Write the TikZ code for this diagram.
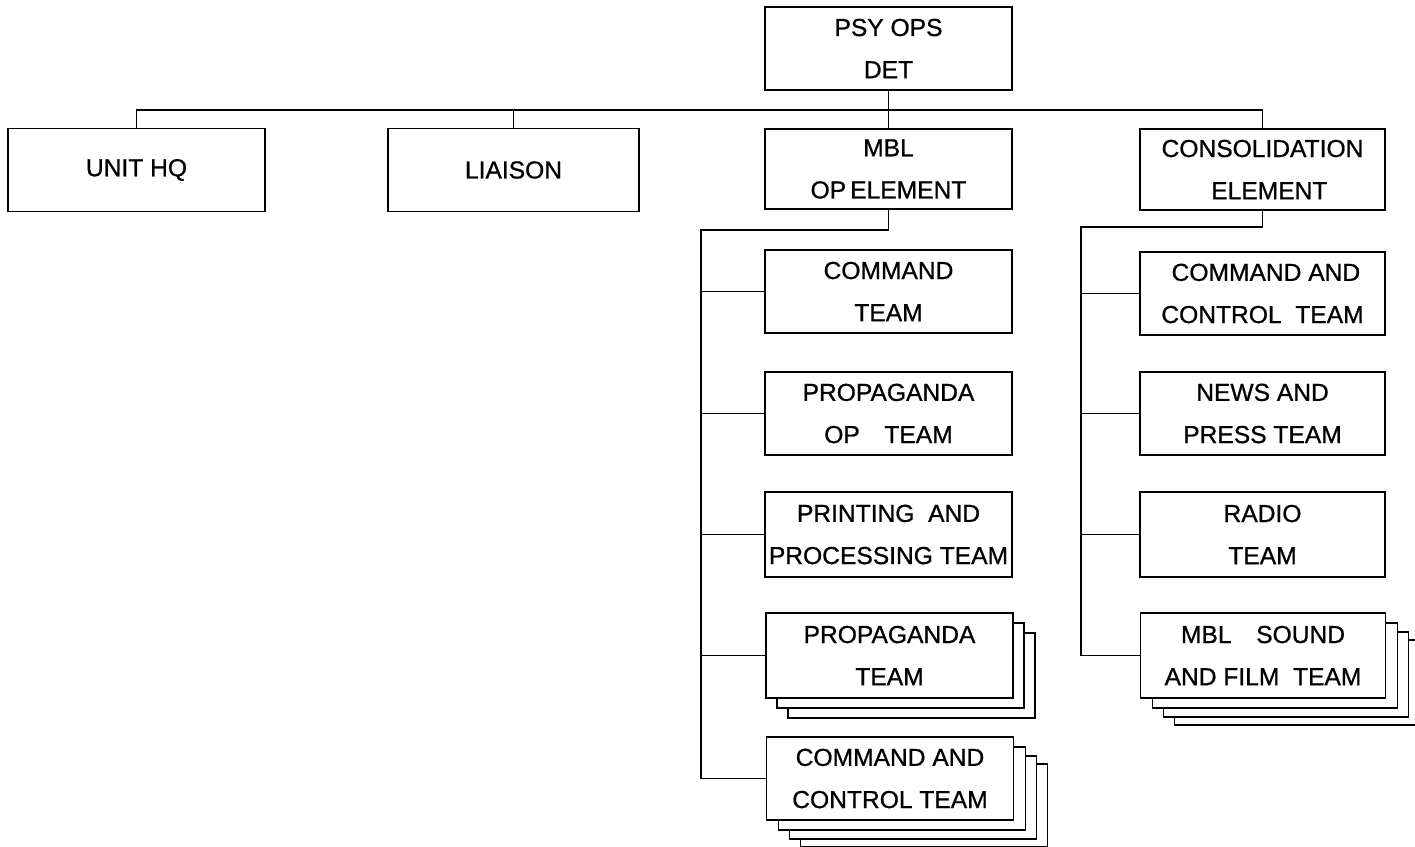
\documentclass[tikz,border=0pt]{standalone}
\usepackage{fontspec}
\setmainfont{Liberation Sans}
\newfontfamily\lettering[FakeBold=0.8]{Liberation Sans}
\usetikzlibrary{shadows,positioning}

\begin{document}
\begin{tikzpicture}[x=0.02cm, y=-0.02cm, line width=1pt,
    unit/.style={draw, fill=white, align=center, inner xsep=1pt, inner ysep=0pt,
        minimum width=4.94cm, minimum height=1.66cm,
        font=\lettering\fontsize{14}{24}\selectfont},
    stacktwo/.style={
        general shadow={fill=white, draw, shadow xshift=0.44cm, shadow yshift=-0.4cm},
        general shadow={fill=white, draw, shadow xshift=0.22cm, shadow yshift=-0.2cm}},
    stackthree/.style={
        general shadow={fill=white, draw, shadow xshift=0.68cm, shadow yshift=-0.54cm},
        general shadow={fill=white, draw, shadow xshift=0.46cm, shadow yshift=-0.38cm},
        general shadow={fill=white, draw, shadow xshift=0.24cm, shadow yshift=-0.2cm}}]
    \useasboundingbox (0,0) rectangle (1415,847);

    % top level
    \node[unit] (det) at (888.5,48.5) {PSY OPS\\DET};
    \node[unit, minimum width=5.14cm] (hq) at (136.5,170) {UNIT HQ};
    \node[unit, minimum width=5.02cm] (liaison) at (513.5,170) {LIAISON};
    \node[unit, minimum height=1.6cm] (mbl) at (888.5,169) {MBL\\OP\,ELEMENT};
    \node[unit, minimum width=4.9cm, minimum height=1.62cm] (cons) at (1262.5,169.5) {CONSOLIDATION\\\ \ ELEMENT};

    % mobile op element teams
    \node[unit] (cmdteam) at (888.5,291.5) {COMMAND\\TEAM};
    \node[unit] (propop) at (888.5,413.5) {PROPAGANDA\\OP\quad TEAM};
    \node[unit, minimum height=1.7cm] (print) at (888.5,534.5) {PRINTING\ \ AND\\PROCESSING TEAM};
    \node[unit, stacktwo, minimum height=1.7cm] (propteam) at (889.5,655.5) {PROPAGANDA\\TEAM};
    \node[unit, stackthree] (mblcc) at (890,778.5) {COMMAND AND\\CONTROL TEAM};

    % consolidation element teams
    \node[unit, minimum width=4.9cm] (conscc) at (1262.5,293.5) {\ COMMAND AND\\CONTROL\ \ TEAM};
    \node[unit, minimum width=4.9cm] (news) at (1262.5,413.5) {NEWS AND\\PRESS TEAM};
    \node[unit, minimum width=4.9cm, minimum height=1.7cm] (radio) at (1262.5,534.5) {RADIO\\TEAM};
    \node[unit, stackthree, minimum width=4.9cm, minimum height=1.7cm] (sound) at (1263,655.5) {MBL\quad SOUND\\AND FILM\ \ TEAM};

    % connectors
    \coordinate (bus) at (0,110);
    \coordinate (ltrunk) at (701,230);
    \coordinate (rtrunk) at (1081,227);
    \draw (det.south) -- (mbl.north);
    \draw (hq.north) |- (bus -| cons.north) -- (cons.north);
    \draw (liaison.north) -- (liaison.north |- bus);

    \draw (mbl.south) |- (ltrunk) |- (mblcc.west);
    \draw (ltrunk |- cmdteam.west) -- (cmdteam.west);
    \draw (ltrunk |- propop.west) -- (propop.west);
    \draw (ltrunk |- print.west) -- (print.west);
    \draw (ltrunk |- propteam.west) -- (propteam.west);

    \draw (cons.south) |- (rtrunk) |- (sound.west);
    \draw (rtrunk |- conscc.west) -- (conscc.west);
    \draw (rtrunk |- news.west) -- (news.west);
    \draw (rtrunk |- radio.west) -- (radio.west);
\end{tikzpicture}
\end{document}
